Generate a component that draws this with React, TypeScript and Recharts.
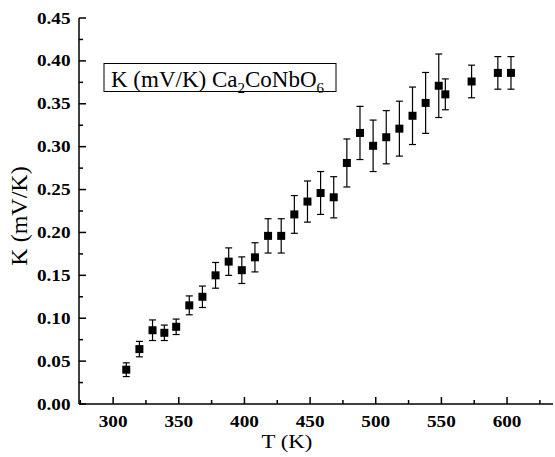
import { ScatterChart, Scatter, XAxis, YAxis, ErrorBar } from "recharts"

const temps = [310, 320, 330, 339, 348, 358, 368, 378, 388, 398, 408, 418, 428, 438, 448, 458, 468, 478, 488, 498, 508, 518, 528, 538, 548, 553, 573, 593, 603]
const kValues = [0.040, 0.064, 0.086, 0.083, 0.090, 0.115, 0.125, 0.150, 0.166, 0.156, 0.171, 0.196, 0.196, 0.221, 0.236, 0.246, 0.241, 0.281, 0.316, 0.301, 0.311, 0.321, 0.336, 0.351, 0.371, 0.361, 0.376, 0.386, 0.386]
const kErrors = [0.008, 0.009, 0.012, 0.009, 0.009, 0.011, 0.0125, 0.015, 0.016, 0.0155, 0.017, 0.02, 0.02, 0.022, 0.024, 0.025, 0.024, 0.028, 0.031, 0.030, 0.031, 0.032, 0.0335, 0.0355, 0.037, 0.018, 0.019, 0.019, 0.019]

const xTicks = [275, 300, 325, 350, 375, 400, 425, 450, 475, 500, 525, 550, 575, 600, 625]
const yTicks = [0, 0.025, 0.05, 0.075, 0.1, 0.125, 0.15, 0.175, 0.2, 0.225, 0.25, 0.275, 0.3, 0.325, 0.35, 0.375, 0.4, 0.425, 0.45]

const data = temps.map((t, i) => ({ t, k: kValues[i], err: kErrors[i] }))

const FONT = "'Liberation Serif', 'Times New Roman', serif"
const isMajorX = (v: number) => v % 50 === 0
const isMajorY = (v: number) => Math.abs(v * 20 - Math.round(v * 20)) < 1e-6

const BottomTick = (props: any) => {
  const { x, y, payload } = props
  const major = isMajorX(payload.value)
  return (
    <g>
      <line x1={x} x2={x} y1={y} y2={y - (major ? 7 : 4)} stroke="#000" strokeWidth={1.5} />
      {major && (
        <text transform={`translate(${x},${y + 23}) scale(1.2,1)`} textAnchor="middle" fontFamily={FONT} fontWeight="bold" fontSize={16} fill="#000">
          {payload.value}
        </text>
      )}
    </g>
  )
}

const TopTick = (props: any) => {
  const { x, y, payload } = props
  const major = isMajorX(payload.value)
  return <line x1={x} x2={x} y1={y} y2={y + (major ? 7 : 4)} stroke="#000" strokeWidth={1.5} />
}

const LeftTick = (props: any) => {
  const { x, y, payload } = props
  const major = isMajorY(payload.value)
  return (
    <g>
      <line x1={x} x2={x + (major ? 7 : 4)} y1={y} y2={y} stroke="#000" strokeWidth={1.5} />
      {major && (
        <text transform={`translate(${x - 8.5},${y + 5.5}) scale(1.2,1)`} textAnchor="end" fontFamily={FONT} fontWeight="bold" fontSize={16} fill="#000">
          {payload.value.toFixed(2)}
        </text>
      )}
    </g>
  )
}

const RightTick = (props: any) => {
  const { x, y, payload } = props
  const major = isMajorY(payload.value)
  return <line x1={x} x2={x - (major ? 7 : 4)} y1={y} y2={y} stroke="#000" strokeWidth={1.5} />
}

const SquareDot = (props: any) => {
  const { cx, cy } = props
  return <rect x={cx - 4} y={cy - 4} width={8} height={8} fill="#000" />
}

const axisLine = { stroke: "#000", strokeWidth: 1.5 }

export default function App() {
  return (
    <div style={{ position: "absolute", left: 0, top: 0, width: 555, height: 457, background: "#fff" }}>
      <ScatterChart width={555} height={457} margin={{ top: 18, right: 2, bottom: 0, left: 0 }}>
        <XAxis
          xAxisId="b"
          type="number"
          dataKey="t"
          domain={[274, 635]}
          ticks={xTicks}
          interval={0}
          height={53}
          tickSize={0}
          tickMargin={0}
          tickLine={false}
          axisLine={axisLine}
          tick={<BottomTick />}
        />
        <XAxis
          xAxisId="top"
          orientation="top"
          type="number"
          domain={[274, 635]}
          ticks={xTicks}
          interval={0}
          height={0}
          tickSize={0}
          tickMargin={0}
          tickLine={false}
          axisLine={axisLine}
          tick={<TopTick />}
        />
        <YAxis
          yAxisId="l"
          type="number"
          dataKey="k"
          domain={[0, 0.45]}
          ticks={yTicks}
          interval={0}
          width={79}
          tickSize={0}
          tickMargin={0}
          tickLine={false}
          axisLine={axisLine}
          tick={<LeftTick />}
        />
        <YAxis
          yAxisId="r"
          orientation="right"
          type="number"
          domain={[0, 0.45]}
          ticks={yTicks}
          interval={0}
          width={0}
          tickSize={0}
          tickMargin={0}
          tickLine={false}
          axisLine={axisLine}
          tick={<RightTick />}
        />
        <Scatter data={data} xAxisId="b" yAxisId="l" dataKey="k" shape={<SquareDot />} isAnimationActive={false}>
          <ErrorBar dataKey="err" direction="y" width={3.5} stroke="#000" strokeWidth={1.2} isAnimationActive={false} />
        </Scatter>
        <text transform="translate(287,448) scale(1.2,1)" textAnchor="middle" fontFamily={FONT} fontSize={19} fill="#000">
          T (K)
        </text>
        <text transform="translate(27,216) rotate(-90)" textAnchor="middle" fontFamily={FONT} fontSize={24} fill="#000">
          K (mV/K)
        </text>
        <g>
          <rect x={104} y={63.5} width={232} height={28} fill="#fff" stroke="#000" strokeWidth={1} />
          <text x={111} y={87} fontFamily={FONT} fontSize={23} fill="#000">
            K (mV/K) Ca<tspan dy={6} fontSize={15}>2</tspan>
            <tspan dy={-6}>CoNbO</tspan>
            <tspan dy={6} fontSize={15}>6</tspan>
          </text>
        </g>
      </ScatterChart>
    </div>
  )
}
